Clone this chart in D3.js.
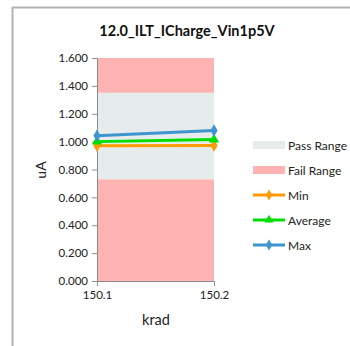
<!DOCTYPE html>
<html>
<head>
<meta charset="utf-8">
<script src="https://cdn.jsdelivr.net/npm/d3@7"></script>
<style>
  html, body { margin: 0; padding: 0; background: #fff; }
  svg { display: block; font-family: Lato, "Open Sans", sans-serif; }
</style>
</head>
<body>
<svg id="chart" width="350" height="346"></svg>
<script>
// Measurement positions (krad)
const xValues = [150.1, 150.2];
const xTickLabels = ["150.1", "150.2"];

// Current readings (uA)
const minValues = [0.970, 0.972];
const avgValues = [1.000, 1.015];
const maxValues = [1.042, 1.080];

// Limits (uA)
const passRange = [0.73, 1.35];
const yMax = 1.6;
const yTicks = [0, 0.2, 0.4, 0.6, 0.8, 1.0, 1.2, 1.4, 1.6];

const colors = {
  pass: "#e6ebeb",
  fail: "#ffb3b3",
  min: "#ff9a00",
  avg: "#00dd00",
  max: "#3e95cf",
  axis: "#8c8c8c",
  frame: "#b3b3b3"
};

const svg = d3.select("#chart");

// Outer chart frame
svg.append("path")
  .attr("d", "M12.5,346 V7.5 H350")
  .attr("fill", "none")
  .attr("stroke", colors.frame)
  .attr("stroke-width", 2);

const plot = { left: 97, right: 214, top: 58, bottom: 281 };

const x = d3.scaleLinear().domain([xValues[0], xValues[1]]).range([plot.left, plot.right]);
const y = d3.scaleLinear().domain([0, yMax]).range([plot.bottom, plot.top]);

// Fail / pass bands
const bands = [
  { lo: 0, hi: passRange[0], color: colors.fail },
  { lo: passRange[1], hi: yMax, color: colors.fail },
  { lo: passRange[0], hi: passRange[1], color: colors.pass }
];
svg.append("g").selectAll("rect").data(bands).join("rect")
  .attr("x", x(xValues[0]))
  .attr("width", x(xValues[1]) - x(xValues[0]))
  .attr("y", d => y(d.hi))
  .attr("height", d => y(d.lo) - y(d.hi))
  .attr("fill", d => d.color);

// Y axis
const yAxis = svg.append("g")
  .attr("transform", `translate(${plot.left},0)`)
  .call(d3.axisLeft(y).tickValues(yTicks).tickFormat(d3.format(".3f")).tickSize(5).tickPadding(4));
yAxis.select(".domain").attr("stroke", colors.axis);
yAxis.selectAll(".tick line").attr("stroke", colors.axis);
yAxis.selectAll(".tick text").attr("font-size", 11.5).attr("fill", "#222").attr("font-family", "Lato, sans-serif");

// X axis
const xAxis = svg.append("g")
  .attr("transform", `translate(0,${plot.bottom})`)
  .call(d3.axisBottom(x).tickValues(xValues).tickFormat((d, i) => xTickLabels[i]).tickSize(5).tickSizeOuter(0).tickPadding(5));
xAxis.select(".domain").attr("stroke", colors.axis);
xAxis.selectAll(".tick line").attr("stroke", colors.axis);
xAxis.selectAll(".tick text").attr("font-size", 11.5).attr("fill", "#222").attr("font-family", "Lato, sans-serif");

// Title and axis labels
svg.append("text")
  .attr("x", 187).attr("y", 36)
  .attr("text-anchor", "middle")
  .attr("font-size", 14.5).attr("font-weight", "bold").attr("fill", "#111")
  .text("12.0_ILT_ICharge_Vin1p5V");

svg.append("text")
  .attr("transform", "translate(46,170) rotate(-90)")
  .attr("text-anchor", "middle")
  .attr("font-size", 14).attr("fill", "#222")
  .text("uA");

svg.append("text")
  .attr("x", 156).attr("y", 325)
  .attr("text-anchor", "middle")
  .attr("font-size", 14.5).attr("fill", "#222")
  .text("krad");

// Series
const series = [
  { name: "Min", values: minValues, color: colors.min, marker: d3.symbolDiamond },
  { name: "Average", values: avgValues, color: colors.avg, marker: d3.symbolTriangle },
  { name: "Max", values: maxValues, color: colors.max, marker: d3.symbolDiamond }
];

const line = d3.line().x((d, i) => x(xValues[i])).y(d => y(d));

series.forEach(s => {
  svg.append("path")
    .datum(s.values)
    .attr("d", line)
    .attr("fill", "none")
    .attr("stroke", s.color)
    .attr("stroke-width", 3);
  svg.append("g").selectAll("path").data(s.values).join("path")
    .attr("transform", (d, i) => `translate(${x(xValues[i])},${y(d)})`)
    .attr("d", d3.symbol().type(s.marker).size(45))
    .attr("fill", s.color);
});

// Legend
const legend = svg.append("g").attr("font-size", 12).attr("fill", "#222");
const legendItems = [
  { name: "Pass Range", kind: "rect", color: colors.pass },
  { name: "Fail Range", kind: "rect", color: colors.fail },
  { name: "Min", kind: "line", color: colors.min, marker: d3.symbolDiamond },
  { name: "Average", kind: "line", color: colors.avg, marker: d3.symbolTriangle },
  { name: "Max", kind: "line", color: colors.max, marker: d3.symbolDiamond }
];
const legendY = [145, 170, 195, 220, 245];
legendItems.forEach((item, i) => {
  const g = legend.append("g").attr("transform", `translate(253,${legendY[i]})`);
  if (item.kind === "rect") {
    g.append("rect").attr("x", 0).attr("y", -4).attr("width", 32).attr("height", 8).attr("fill", item.color);
  } else {
    g.append("line").attr("x1", 0).attr("x2", 32).attr("y1", 0).attr("y2", 0)
      .attr("stroke", item.color).attr("stroke-width", 3);
    g.append("path").attr("transform", "translate(16,0)")
      .attr("d", d3.symbol().type(item.marker).size(35)).attr("fill", item.color);
  }
  g.append("text").attr("x", 35).attr("y", 4.5).text(item.name);
});
</script>
</body>
</html>
